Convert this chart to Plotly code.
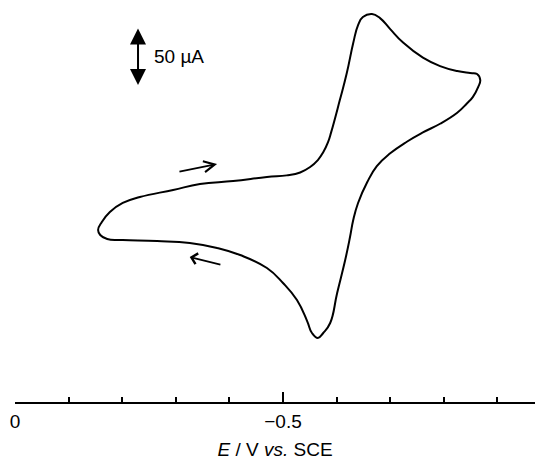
import plotly.graph_objects as go

# Cyclic voltammogram: potential (V vs SCE) and current (µA, cathodic positive)
E_forward = [-0.155, -0.162, -0.177, -0.201, -0.233, -0.295, -0.345, -0.407, -0.470, -0.507,
             -0.532, -0.550, -0.565, -0.575, -0.584, -0.590, -0.606, -0.619, -0.631, -0.640,
             -0.649, -0.666, -0.681, -0.700, -0.724, -0.761, -0.793, -0.825, -0.849, -0.862, -0.868]
I_forward = [-8.6, -1.7, 6.9, 14.7, 19.8, 25.9, 31.0, 33.6, 37.1, 38.5,
             41.0, 45.5, 51.7, 58.5, 67.2, 76.0, 103.4, 126.7, 152.6, 168.1,
             175.0, 177.6, 174.1, 164.6, 153.0, 140.0, 132.7, 128.4, 126.7, 125.9, 120.7]
E_reverse = [-0.864, -0.854, -0.843, -0.825, -0.793, -0.761, -0.731, -0.700, -0.675, -0.657,
             -0.640, -0.631, -0.625, -0.616, -0.601, -0.588, -0.575, -0.565, -0.554, -0.545,
             -0.526, -0.500, -0.470, -0.420, -0.377, -0.326, -0.265, -0.201, -0.172, -0.159, -0.155]
I_reverse = [114.6, 106.0, 100.5, 92.5, 83.0, 75.5, 67.5, 57.5, 46.5, 32.5,
             14.7, 0.0, -14.7, -34.5, -62.9, -88.8, -97.4, -101.7, -97.4, -87.1,
             -69.0, -54.3, -41.4, -30.2, -24.1, -19.8, -18.1, -17.2, -16.4, -12.9, -8.6]

tick_vals = [0, -0.5]
tick_text = ["0", "\u22120.5"]
x_title = "<i>E</i> / V <i>vs.</i> SCE"
scale_label = "50 \u00b5A"
scale_E = -0.2295
scale_top = 166.4
scale_size = 50

# scan direction arrows (tail -> head)
arrow_fwd = dict(tail=(-0.304, 41.4), head=(-0.377, 48.3))
arrow_rev = dict(tail=(-0.386, -38.8), head=(-0.326, -31.9))

E = E_forward + E_reverse
I = I_forward + I_reverse

FONT = "Liberation Sans, Arial, Helvetica, sans-serif"

fig = go.Figure()
fig.add_trace(go.Scatter(x=E, y=I, mode="lines",
                         line=dict(color="black", width=2, shape="spline", smoothing=1.3),
                         showlegend=False, hoverinfo="skip"))
# invisible trace on overlay axis for the long -0.5 tick
fig.add_trace(go.Scatter(x=[None], y=[None], xaxis="x2", showlegend=False))

fig.update_layout(
    width=535, height=467,
    margin=dict(l=15, r=0, t=0, b=65),
    paper_bgcolor="white", plot_bgcolor="white",
    font=dict(family=FONT, color="black", size=19),
    xaxis=dict(range=[0, -0.9701], showgrid=False, zeroline=False,
               showline=True, linecolor="black", linewidth=2,
               ticks="inside", ticklen=5, tickwidth=1.5, tickcolor="black",
               tickvals=tick_vals, ticktext=tick_text, tickfont=dict(size=19),
               ticklabelstandoff=1,
               minor=dict(dtick=0.1, tick0=0, ticks="inside", ticklen=5,
                          tickwidth=1.5, tickcolor="black"),
               title=dict(text=x_title, font=dict(size=19), standoff=12)),
    xaxis2=dict(range=[0, -0.9701], overlaying="x", side="bottom", anchor="y",
                showgrid=False, zeroline=False, showline=False,
                ticks="inside", ticklen=10, tickwidth=1.5, tickcolor="black",
                tickvals=[-0.5], showticklabels=False),
    yaxis=dict(range=[-156.9, 189.7], visible=False, showgrid=False, zeroline=False),
)

# scale bar
fig.add_annotation(x=scale_E, y=scale_top - scale_size, ax=scale_E, ay=scale_top,
                   xref="x", yref="y", axref="x", ayref="y", text="",
                   showarrow=True, arrowhead=2, startarrowhead=2, arrowside="end+start",
                   arrowsize=1.6, startarrowsize=1.6, arrowwidth=2, arrowcolor="black",
                   standoff=0, startstandoff=0)
fig.add_annotation(x=scale_E - 0.027, y=scale_top - scale_size / 2, xref="x", yref="y",
                   text=scale_label, showarrow=False, xanchor="left", yanchor="middle",
                   font=dict(size=19))

for a, head in ((arrow_fwd, 5), (arrow_rev, 4)):
    fig.add_annotation(x=a["head"][0], y=a["head"][1], ax=a["tail"][0], ay=a["tail"][1],
                       xref="x", yref="y", axref="x", ayref="y", text="",
                       showarrow=True, arrowhead=head, arrowsize=1.2, arrowwidth=1.8,
                       arrowcolor="black", standoff=0)

fig.write_html("out.html")
